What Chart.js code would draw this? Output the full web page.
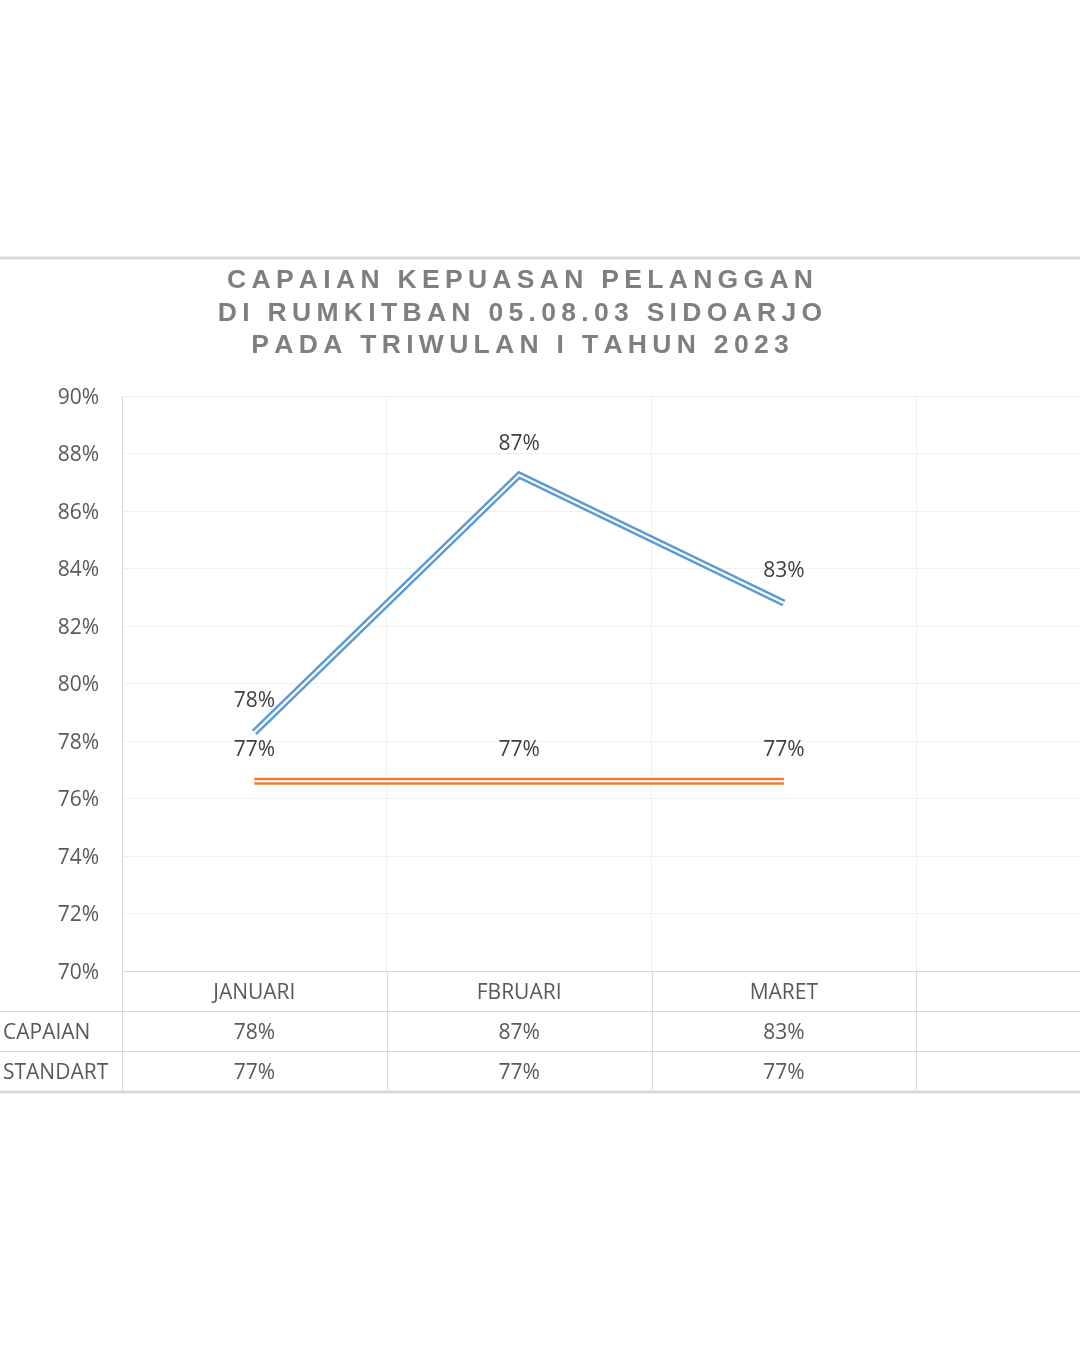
<!DOCTYPE html>
<html>
<head>
<meta charset="utf-8">
<script src="https://cdn.jsdelivr.net/npm/chart.js@4"></script>
<style>
  html, body { margin: 0; padding: 0; background: #fff; overflow: hidden; }
  #wrap { position: relative; width: 1200px; height: 1350px; }
</style>
</head>
<body>
<div id="wrap"><canvas id="chart" width="1200" height="1350"></canvas></div>
<script>
// data
const titleLines = ["CAPAIAN KEPUASAN PELANGGAN", "DI RUMKITBAN 05.08.03 SIDOARJO", "PADA TRIWULAN I TAHUN 2023"];
const months = ["JANUARI", "FBRUARI", "MARET", ""];
const seriesNames = ["CAPAIAN", "STANDART"];
const capaian = [78.3, 87.25, 82.8, null];
const standart = [76.6, 76.6, 76.6, null];
const yMin = 70, yMax = 90, yStep = 2;

const FONT = "'Open Sans', 'Liberation Sans', sans-serif";
const pct = v => Math.round(v) + '%';

function line(ctx, x1, y1, x2, y2) {
  ctx.beginPath(); ctx.moveTo(x1, y1); ctx.lineTo(x2, y2); ctx.stroke();
}

// title with wide letter spacing, drawn char by char
const titlePlugin = {
  id: 'spacedTitle',
  beforeDraw(chart) {
    const ctx = chart.ctx;
    const spacing = 5.3, cx = 520, ys = [281, 314, 346];
    ctx.save();
    ctx.font = "bold 26.5px 'Liberation Sans', Arial, sans-serif";
    ctx.fillStyle = '#7f7f7f';
    ctx.textBaseline = 'middle';
    ctx.textAlign = 'left';
    titleLines.forEach((t, i) => {
      const chars = t.split('');
      const w = chars.reduce((s, c) => s + ctx.measureText(c).width, 0) + spacing * (chars.length - 1);
      let x = cx - w / 2;
      chars.forEach(c => { ctx.fillText(c, x, ys[i]); x += ctx.measureText(c).width + spacing; });
    });
    // chart border (top)
    ctx.strokeStyle = '#d9d9d9'; ctx.lineWidth = 3;
    line(ctx, 0, 258, chart.width, 258);
    ctx.restore();
  }
};

// compound "double" line look: white core over the wide stroke
const doubleLinePlugin = {
  id: 'doubleLine',
  afterDatasetDraw(chart, args) {
    const pts = args.meta.data.filter(p => !p.skip);
    if (pts.length < 2) return;
    const ctx = chart.ctx;
    ctx.save();
    ctx.strokeStyle = '#ffffff';
    ctx.lineWidth = 2.2;
    ctx.lineJoin = 'miter';
    ctx.lineCap = 'butt';
    ctx.beginPath();
    pts.forEach((p, i) => i ? ctx.lineTo(p.x, p.y) : ctx.moveTo(p.x, p.y));
    ctx.stroke();
    ctx.restore();
  }
};

const labelPlugin = {
  id: 'pointLabels',
  afterDatasetsDraw(chart) {
    const ctx = chart.ctx;
    ctx.save();
    ctx.font = '21px ' + FONT;
    ctx.fillStyle = '#404040';
    ctx.textAlign = 'center';
    ctx.textBaseline = 'middle';
    chart.data.datasets.forEach((ds, di) => {
      chart.getDatasetMeta(di).data.forEach((p, i) => {
        if (ds.data[i] == null) return;
        ctx.fillText(pct(ds.data[i]), p.x, p.y - 31.5);
      });
    });
    ctx.restore();
  }
};

// Excel-style data table under the plot
const tablePlugin = {
  id: 'dataTable',
  afterDraw(chart) {
    const { ctx, chartArea, scales: { x } } = chart;
    const rowH = 40, top = chartArea.bottom, W = chart.width;
    const colW = (x.right - x.left) / months.length;
    ctx.save();
    ctx.strokeStyle = '#d9d9d9';
    ctx.lineWidth = 1;
    for (let i = 0; i <= months.length; i++) {
      const px = Math.round(x.left + i * colW) + 0.5;
      line(ctx, px, i === 0 ? chartArea.top : top, px, top + 3 * rowH);
    }
    line(ctx, 0, top + rowH + 0.5, W, top + rowH + 0.5);
    line(ctx, 0, top + 2 * rowH + 0.5, W, top + 2 * rowH + 0.5);
    ctx.lineWidth = 3;
    line(ctx, 0, top + 3 * rowH + 1, W, top + 3 * rowH + 1);

    ctx.font = '21px ' + FONT;
    ctx.fillStyle = '#595959';
    ctx.textBaseline = 'middle';
    ctx.textAlign = 'center';
    const dy = 2;
    months.forEach((m, i) => {
      const cx = x.getPixelForValue(i);
      ctx.fillText(m, cx, top + rowH / 2 + dy);
      if (capaian[i] != null) ctx.fillText(pct(capaian[i]), cx, top + rowH * 1.5 + dy);
      if (standart[i] != null) ctx.fillText(pct(standart[i]), cx, top + rowH * 2.5 + dy);
    });
    ctx.textAlign = 'left';
    ctx.fillText(seriesNames[0], 3, top + rowH * 1.5 + dy);
    ctx.fillText(seriesNames[1], 3, top + rowH * 2.5 + dy);
    ctx.restore();
  }
};

new Chart(document.getElementById('chart'), {
  type: 'line',
  data: {
    labels: months,
    datasets: [
      {
        label: seriesNames[0],
        data: capaian,
        borderColor: '#5b9bd5',
        borderWidth: 7,
        borderJoinStyle: 'miter',
        borderCapStyle: 'butt',
        pointRadius: 0,
        tension: 0
      },
      {
        label: seriesNames[1],
        data: standart,
        borderColor: '#ed7d31',
        borderWidth: 7,
        borderJoinStyle: 'miter',
        borderCapStyle: 'butt',
        pointRadius: 0,
        tension: 0
      }
    ]
  },
  options: {
    responsive: false,
    animation: false,
    events: [],
    layout: { padding: { top: 396, bottom: 379, left: 0, right: 19 } },
    plugins: { legend: { display: false }, title: { display: false }, tooltip: { enabled: false } },
    scales: {
      x: {
        offset: true,
        grid: { offset: true, color: '#f0f0f0', drawTicks: false },
        border: { display: true, color: '#d9d9d9' },
        ticks: { display: false }
      },
      y: {
        min: yMin,
        max: yMax,
        afterFit(scale) { scale.width = 122; },
        grid: { color: '#f0f0f0', drawTicks: false },
        border: { display: false },
        ticks: {
          stepSize: yStep,
          padding: 23,
          labelOffset: 2,
          color: '#595959',
          font: { family: FONT, size: 21 },
          callback: v => v + '%'
        }
      }
    }
  },
  plugins: [titlePlugin, doubleLinePlugin, labelPlugin, tablePlugin]
});
</script>
</body>
</html>
